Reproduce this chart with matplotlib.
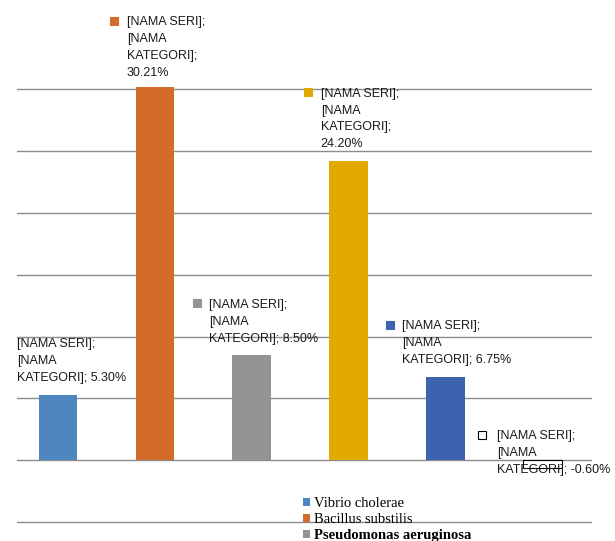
import matplotlib
matplotlib.use("Agg")
import matplotlib.pyplot as plt
from matplotlib.patches import Patch
from matplotlib.transforms import offset_copy

# ---- data ----
series = ["Vibrio cholerae", "Bacillus substilis", "Pseudomonas aeruginosa",
          "Seri 4", "Seri 5", "Seri 6"]
values = [5.30, 30.21, 8.50, 24.20, 6.75, -0.60]
label_text = [
    "[NAMA SERI];\n[NAMA\nKATEGORI]; 5.30%",
    "[NAMA SERI];\n[NAMA\nKATEGORI];\n30.21%",
    "[NAMA SERI];\n[NAMA\nKATEGORI]; 8.50%",
    "[NAMA SERI];\n[NAMA\nKATEGORI];\n24.20%",
    "[NAMA SERI];\n[NAMA\nKATEGORI]; 6.75%",
    "[NAMA SERI];\n[NAMA\nKATEGORI]; -0.60%",
]
yticks = [-5, 0, 5, 10, 15, 20, 25, 30]

# ---- styles ----
colors = ["#4E87C0", "#D36C2A", "#949494", "#E2AA00", "#3C63AD", "#FFFFFF"]
edges = ["none", "none", "none", "none", "none", "#000000"]
show_marker = [False, True, True, True, True, True]
# (text dx, first-line dy from bar end, marker dx) in pixels
offsets = [(-41, 52, 0), (-28, 66, -41), (-42.5, 52, -54.5),
           (-28, 69, -40.5), (-43.5, 52, -55.5), (-45.5, 33, -60)]

W, H = 615, 541
fig = plt.figure(figsize=(W / 100, H / 100), dpi=100)
ax = fig.add_axes([17 / W, (H - 524) / H, 575 / W, (524 - 83.2) / H])

x = list(range(len(values)))
ax.bar(x, values, width=0.40, color=colors, edgecolor=edges, linewidth=0.8, zorder=2)

ax.set_xlim(-0.4231, 5.511)
ax.set_ylim(-5.16, 30.5)
ax.set_yticks(yticks)
ax.set_xticks([])
ax.tick_params(axis="y", length=0, labelleft=False)
ax.grid(axis="y", color="#8C8C8C", linewidth=1.0)
ax.set_axisbelow(True)
for s in ax.spines.values():
    s.set_visible(False)

for i, (v, txt) in enumerate(zip(values, label_text)):
    tdx, dy, mdx = offsets[i]
    ax.annotate(txt, xy=(i, v), xytext=(tdx, dy + 4.5), textcoords="offset pixels",
                ha="left", va="top", fontsize=9, family="Liberation Sans",
                color="#1a1a1a", linespacing=1.55, annotation_clip=False, zorder=5)
    if show_marker[i]:
        tr = offset_copy(ax.transData, fig=fig, x=mdx, y=dy, units="dots")
        ax.plot([i], [v], marker="s", markersize=5.3, color=colors[i],
                markeredgecolor=("#000000" if colors[i] == "#FFFFFF" else colors[i]),
                markeredgewidth=0.8, transform=tr, clip_on=False, zorder=5)

handles = [Patch(facecolor=colors[k]) for k in range(3)]
leg = fig.legend(handles, series[:3], loc="upper left",
                 bbox_to_anchor=(303 / W, 1 - 497 / H), frameon=False,
                 prop={"family": "Liberation Serif", "size": 10.5},
                 handlelength=0.45, handleheight=0.45, handletextpad=0.3,
                 labelspacing=0.2, borderpad=0, borderaxespad=0)
leg.get_texts()[2].set_fontweight("bold")

fig.savefig("out.png", dpi=100)
